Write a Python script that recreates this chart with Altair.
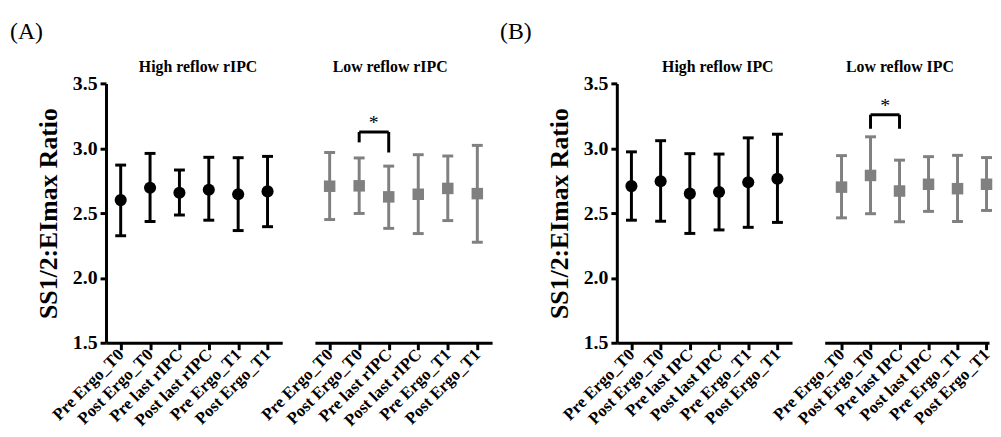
import altair as alt
import pandas as pd

FONT = "Liberation Serif"
BLACK = "#000000"
GRAY = "#808080"

conds_A = ["Pre Ergo_T0", "Post Ergo_T0", "Pre last rIPC", "Post last rIPC", "Pre Ergo_T1", "Post Ergo_T1"]
conds_B = ["Pre Ergo_T0", "Post Ergo_T0", "Pre last IPC", "Post last IPC", "Pre Ergo_T1", "Post Ergo_T1"]

# (A) High reflow rIPC
a_high_mean = [2.600, 2.695, 2.657, 2.680, 2.645, 2.667]
a_high_lo = [2.325, 2.435, 2.485, 2.445, 2.365, 2.395]
a_high_hi = [2.870, 2.960, 2.832, 2.930, 2.927, 2.937]
# (A) Low reflow rIPC
a_low_mean = [2.707, 2.710, 2.625, 2.645, 2.690, 2.650]
a_low_lo = [2.450, 2.497, 2.382, 2.342, 2.442, 2.275]
a_low_hi = [2.967, 2.925, 2.862, 2.950, 2.940, 3.022]
# (B) High reflow IPC
b_high_mean = [2.708, 2.745, 2.650, 2.662, 2.737, 2.765]
b_high_lo = [2.445, 2.437, 2.343, 2.370, 2.390, 2.428]
b_high_hi = [2.972, 3.058, 2.958, 2.955, 3.080, 3.108]
# (B) Low reflow IPC
b_low_mean = [2.700, 2.790, 2.670, 2.722, 2.688, 2.722]
b_low_lo = [2.463, 2.495, 2.433, 2.513, 2.435, 2.520]
b_low_hi = [2.943, 3.088, 2.908, 2.935, 2.945, 2.928]

# significance brackets
br_A_pair = [conds_A[1], conds_A[2]]
br_A_top = 3.125
br_A_ends = [3.045, 2.967]
br_B_pair = [conds_B[1], conds_B[2]]
br_B_top = 3.258
br_B_ends = [3.15, 3.15]

y_ticks = [1.5, 2.0, 2.5, 3.0, 3.5]
Y_DOMAIN = [1.5, 3.5]
H = 262

AXIS_STYLE = dict(domainColor="black", domainWidth=3, tickColor="black", tickWidth=3)


def make_panel(conds, mean, lo, hi, color, shape, width, show_y,
               title, title_x, pad=0.5, align=0.5, bracket=None, tag=None, tag_x=0):
    df = pd.DataFrame({"cond": conds, "mean": mean, "lo": lo, "hi": hi})
    xscale = alt.Scale(type="point", domain=conds, padding=pad, align=align)
    xaxis = alt.Axis(labelAngle=-45, labelAlign="right", labelBaseline="middle",
                     labelFont=FONT, labelFontSize=17, labelFontWeight="bold",
                     labelColor="black", labelPadding=2, labelOverlap=False,
                     tickSize=7, title=None, grid=False, **AXIS_STYLE)
    yscale = alt.Scale(domain=Y_DOMAIN, nice=False, zero=False)
    if show_y:
        yaxis = alt.Axis(values=y_ticks, format=".1f", labelFont=FONT, labelFontSize=20,
                         labelFontWeight="bold", labelColor="black", labelPadding=3,
                         tickSize=6, grid=False,
                         title="SS1/2:EImax Ratio", titleFont=FONT, titleFontSize=26,
                         titleFontWeight="bold", titleColor="black", titlePadding=11,
                         **AXIS_STYLE)
    else:
        yaxis = None
    x = alt.X("cond:N", sort=conds, scale=xscale, axis=xaxis, title=None)
    base = alt.Chart(df)
    bars = base.mark_rule(color=color, strokeWidth=3).encode(
        x=x, y=alt.Y("lo:Q", scale=yscale, axis=yaxis), y2="hi:Q")
    cap_lo = base.mark_tick(color=color, thickness=3, size=11, opacity=1).encode(
        x=x, y=alt.Y("lo:Q", scale=yscale, axis=yaxis))
    cap_hi = base.mark_tick(color=color, thickness=3, size=11, opacity=1).encode(
        x=x, y=alt.Y("hi:Q", scale=yscale, axis=yaxis))
    pts = base.mark_point(shape=shape, filled=True, size=150 if shape == "circle" else 135,
                          color=color, opacity=1).encode(
        x=x, y=alt.Y("mean:Q", scale=yscale, axis=yaxis))
    layers = [bars, cap_lo, cap_hi, pts]

    tdf = pd.DataFrame({"t": [title]})
    layers.append(alt.Chart(tdf).mark_text(font=FONT, fontSize=16, fontWeight="bold",
                                           color="black", align="center",
                                           baseline="alphabetic").encode(
        text="t:N", x=alt.value(title_x), y=alt.value(-11)))
    if tag is not None:
        gdf = pd.DataFrame({"t": [tag]})
        layers.append(alt.Chart(gdf).mark_text(font=FONT, fontSize=24, color="black",
                                               align="left", baseline="middle").encode(
            text="t:N", x=alt.value(tag_x), y=alt.value(-52)))
    if bracket is not None:
        pair, top, ends = bracket
        legs = pd.DataFrame({"cond": pair, "top": [top, top], "end": ends})
        hor = pd.DataFrame({"c1": [pair[0]], "c2": [pair[1]], "top": [top]})
        layers.append(alt.Chart(legs).mark_rule(color="black", strokeWidth=3).encode(
            x=x, y=alt.Y("top:Q", scale=yscale, axis=yaxis), y2="end:Q"))
        layers.append(alt.Chart(hor).mark_rule(color="black", strokeWidth=3).encode(
            x=alt.X("c1:N", sort=conds, scale=xscale, axis=xaxis), x2="c2:N",
            y=alt.Y("top:Q", scale=yscale, axis=yaxis)))
        sdf = pd.DataFrame({"cond": [pair[0]], "top": [top], "s": ["*"]})
        layers.append(alt.Chart(sdf).mark_text(font=FONT, fontSize=20, color="black",
                                               align="center", baseline="alphabetic",
                                               dx=14.7, dy=-3).encode(
            x=x, y=alt.Y("top:Q", scale=yscale, axis=yaxis), text="s:N"))
    return alt.layer(*layers).properties(width=width, height=H)


A1 = make_panel(conds_A, a_high_mean, a_high_lo, a_high_hi, BLACK, "circle", 178, True,
                "High reflow rIPC", 93, tag="(A)", tag_x=-97)
A2 = make_panel(conds_A, a_low_mean, a_low_lo, a_low_hi, GRAY, "square", 179, False,
                "Low reflow rIPC", 76, bracket=(br_A_pair, br_A_top, br_A_ends))
B1 = make_panel(conds_B, b_high_mean, b_high_lo, b_high_hi, BLACK, "circle", 177, True,
                "High reflow IPC", 102, tag="(B)", tag_x=-118)
B2 = make_panel(conds_B, b_low_mean, b_low_lo, b_low_hi, GRAY, "square", 166, False,
                "Low reflow IPC", 76, pad=0.333, align=0.87,
                bracket=(br_B_pair, br_B_top, br_B_ends))

spacer = alt.Chart(pd.DataFrame({"v": [0]})).mark_point(opacity=0).encode(
    x=alt.X("v:Q", axis=None), y=alt.Y("v:Q", axis=None)).properties(width=60, height=H)

chart = alt.hconcat(A1, A2, spacer, B1, B2, spacing=33, bounds="flush").resolve_scale(
    x="independent", y="independent"
).properties(
    padding={"left": 2, "top": 10, "right": 0, "bottom": 0},
    background="white",
).configure_view(stroke=None).configure_axis(**AXIS_STYLE)

chart.save("out.html", embed_options={"renderer": "svg", "actions": False})
